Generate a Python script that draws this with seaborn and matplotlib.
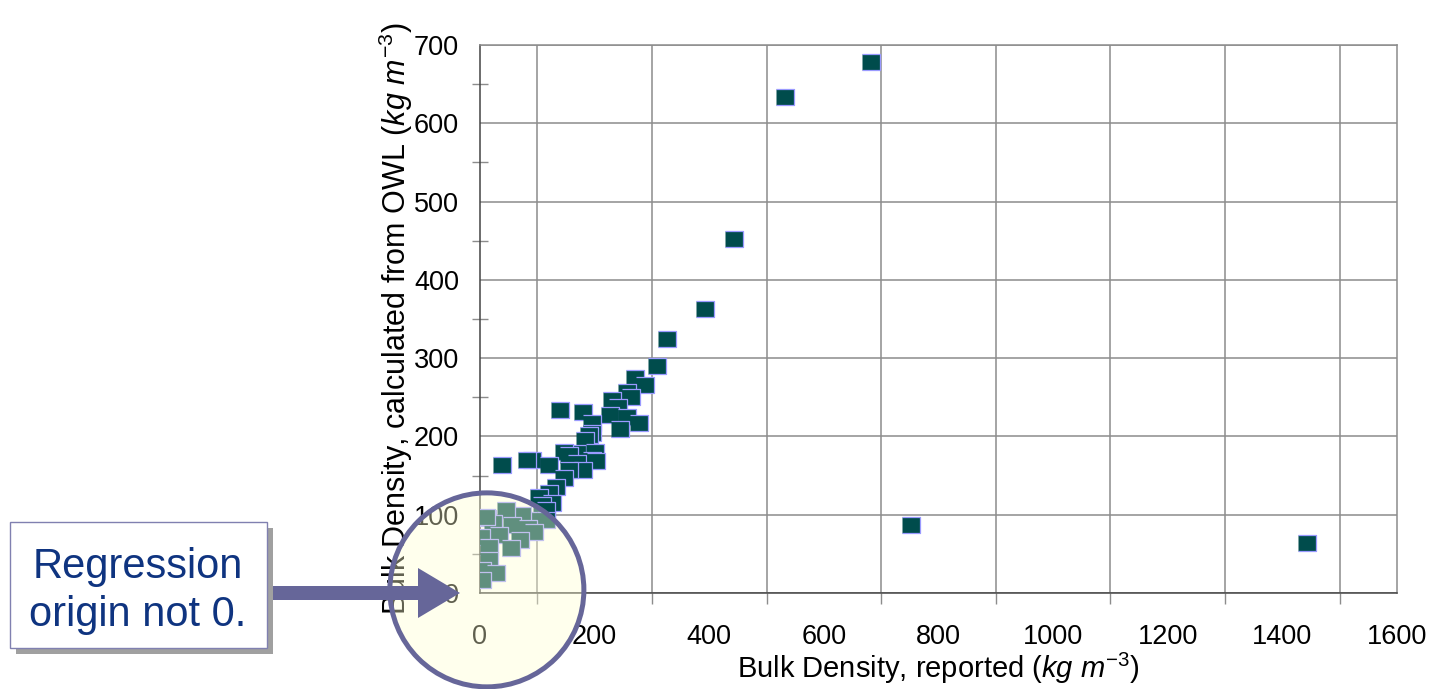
import numpy as np
import pandas as pd
import matplotlib
matplotlib.use("Agg")
import matplotlib.pyplot as plt
import matplotlib.patches as mpatches
import seaborn as sns

# reported bulk density vs the one calculated from OWL (kg m-3)
reported = [682, 532, 443, 392, 327, 308, 752, 1443,
            270, 288, 256, 264, 231, 241, 226, 256, 278, 244, 140, 179,
            195, 196, 191, 184, 170, 200, 147, 156, 196, 169, 203, 39,
            91, 121, 179, 156, 147, 133, 121, 103, 126, 109, 116, 98,
            115, 74, 46, 13, 22, 56, 83, 95, 34, 2, 69, 16, 54, 16,
            4, 28, 4, 11, 82]
calculated = [678, 633, 452, 363, 324, 290, 87, 64,
              274, 266, 257, 250, 246, 238, 227, 225, 217, 210, 234, 231,
              217, 204, 202, 195, 179, 180, 180, 176, 170, 166, 168, 164,
              170, 164, 157, 157, 147, 135, 128, 123, 115, 112, 106, 93,
              93, 100, 106, 96, 89, 87, 83, 78, 74, 72, 68, 59, 57, 42,
              29, 26, 17, 97, 170]

x_ticks = list(range(0, 1601, 200))
y_ticks = list(range(0, 701, 100))

note_text = "Regression\norigin not 0."

df = pd.DataFrame({"reported": reported, "calculated": calculated})

sns.set_theme(style="white")
plt.rcParams['font.family'] = ['Liberation Sans', 'DejaVu Sans']
plt.rcParams['mathtext.fontset'] = 'custom'
plt.rcParams['mathtext.rm'] = 'Liberation Sans'
plt.rcParams['mathtext.it'] = 'Liberation Sans:italic'
plt.rcParams['text.color'] = 'black'
plt.rcParams['axes.labelcolor'] = 'black'
plt.rcParams['xtick.labelcolor'] = 'black'
plt.rcParams['ytick.labelcolor'] = 'black'

W, H = 1432, 689
fig = plt.figure(figsize=(W / 100, H / 100), dpi=100)
ax = fig.add_axes([480 / W, 1 - 593 / H, (1397 - 480) / W, (593 - 45) / H])

rect = [(-1, -0.83), (1, -0.83), (1, 0.83), (-1, 0.83)]
sns.scatterplot(data=df, x="reported", y="calculated", ax=ax, marker=rect,
                s=185, color="#004c4c", edgecolor="#9a9aff", linewidth=0.9,
                zorder=3)

ax.set_xlim(0, 1600)
ax.set_ylim(0, 700)
ax.set_xticks(x_ticks)
ax.set_xticks(range(100, 1600, 200), minor=True)
ax.set_yticks(y_ticks)
ax.set_yticks(range(50, 700, 100), minor=True)
ax.xaxis.grid(True, which='minor', color='#8c8c8c', lw=1.1)
ax.xaxis.grid(False, which='major')
ax.yaxis.grid(True, which='major', color='#8c8c8c', lw=1.1)
ax.set_axisbelow(True)

ax.tick_params(axis='both', which='major', labelsize=19.5, color='#8c8c8c',
               length=9, width=1, direction='out', pad=6)
ax.tick_params(axis='x', which='major', pad=13)
ax.tick_params(axis='x', which='minor', length=8, width=1, color='#8c8c8c',
               direction='out', bottom=True)
ax.tick_params(axis='y', which='minor', length=12, width=1, color='#8c8c8c',
               direction='inout', left=True)

for side in ['top', 'right']:
    ax.spines[side].set_color('#8c8c8c')
    ax.spines[side].set_linewidth(1.1)
for side in ['left', 'bottom']:
    ax.spines[side].set_color('#444444')
    ax.spines[side].set_linewidth(1.1)

ax.set_xlabel(r'Bulk Density, reported ($\mathit{kg\ m^{-3}}$)', fontsize=21,
              labelpad=1)
ax.set_ylabel(r'Bulk Density, calculated from OWL ($\mathit{kg\ m^{-3}}$)',
              fontsize=22, labelpad=-1)

# highlight circle around the origin, in pixels
cx, cy = ax.transData.transform((12, 4))
circ = mpatches.Circle((cx, cy), 97, transform=None, facecolor=(1, 1, 0.82, 0.38),
                       edgecolor='#666699', lw=3.6, zorder=5)
fig.add_artist(circ)

# arrow from the note to the circle
arr = mpatches.FancyArrow(265, H - 593, 460 - 265, 0, width=14, head_width=50,
                          head_length=42, length_includes_head=True,
                          transform=None, color='#666699', lw=0, zorder=6)
fig.add_artist(arr)

# note box with shadow
shadow = mpatches.Rectangle((16, H - 654), 257, 126, transform=None,
                            facecolor='#a0a0a0', edgecolor='none', zorder=7)
box = mpatches.Rectangle((10, H - 648), 257, 126, transform=None,
                         facecolor='white', edgecolor='#8080b0', lw=1.0, zorder=8)
fig.add_artist(shadow)
fig.add_artist(box)
fig.text(138 / W, 1 - 591 / H, note_text, ha='center', va='center', fontsize=30,
         color='#0f3480', linespacing=1.25, zorder=9)

fig.savefig("out.png", dpi=100)
